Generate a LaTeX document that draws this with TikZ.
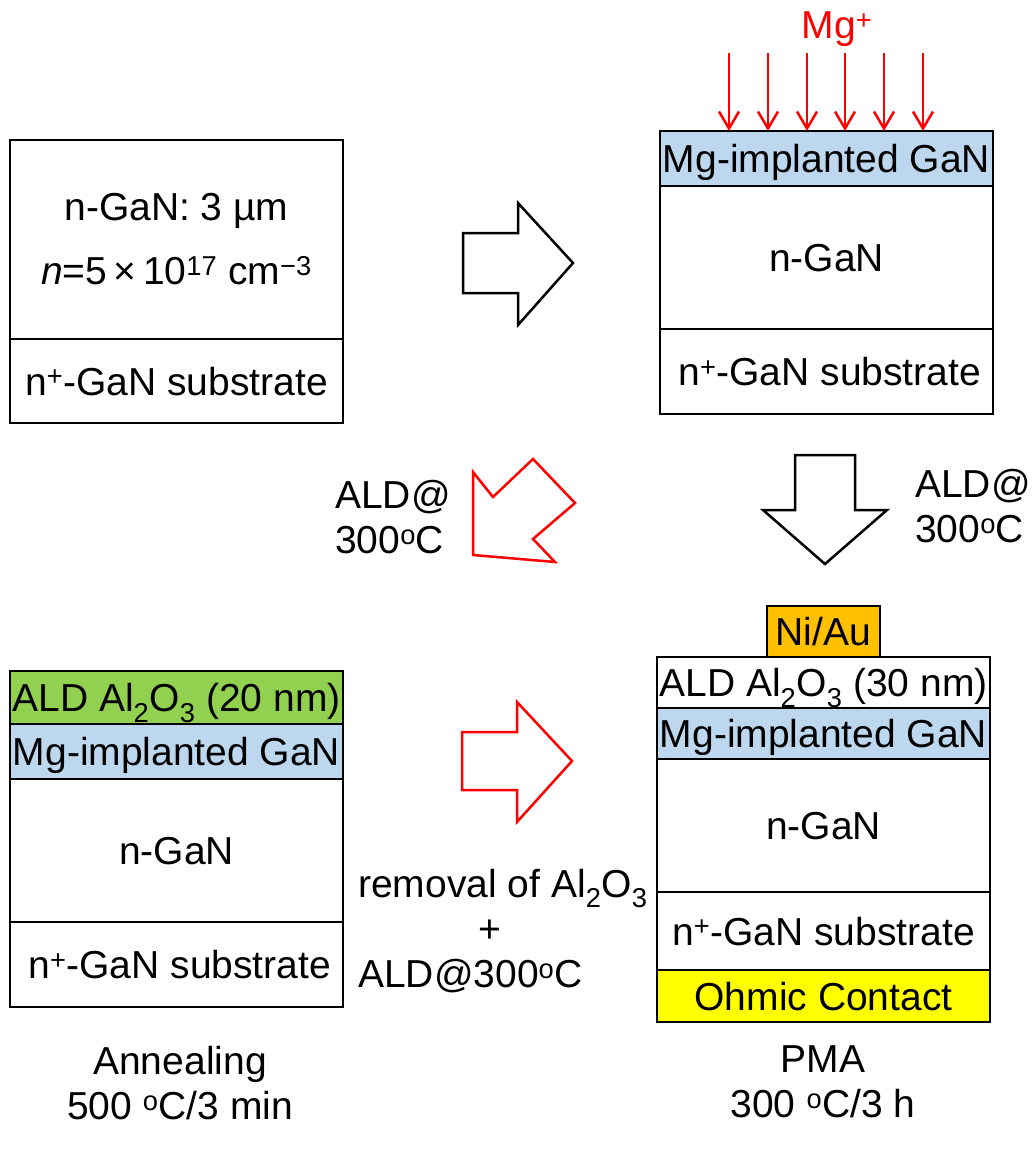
\documentclass[tikz,border=0pt]{standalone}
\usepackage{fontspec}
\setmainfont{Liberation Sans}
\usetikzlibrary{positioning,arrows.meta}

\definecolor{mgblue}{HTML}{BDD7EE}
\definecolor{oxgreen}{HTML}{92D050}
\definecolor{niau}{HTML}{FFC000}
\definecolor{ohmyellow}{HTML}{FFFF00}

\begin{document}
\begin{tikzpicture}[x=1pt, y=-1pt, inner sep=0pt, font=\fontsize{39}{45}\selectfont,
    >={Straight Barb[length=17pt,width=20pt]}]
  % Styles
  \tikzstyle{slab} = [draw, line width=1.5pt, rectangle, outer sep=0pt, minimum width=333pt, align=center]
  \tikzstyle{layer} = [slab, text height=28pt, text depth=0pt]
  \tikzstyle{implant} = [layer, fill=mgblue]
  \tikzstyle{oxide} = [layer, fill=oxgreen]
  \tikzstyle{contact} = [layer, fill=ohmyellow]
  \tikzstyle{gate} = [layer, fill=niau, minimum width=113pt]
  \tikzstyle{bigarrow} = [line width=2.5pt, line join=miter]
  \tikzstyle{ion} = [->, red, line width=2.5pt]

  \useasboundingbox (0,0) rectangle (1035,1162);

  % Wafer
  \node [slab, minimum height=199pt, anchor=north west] (ngan1) at (10,140) {n-GaN: 3 µm\\[19pt]\textit{n}=5\,×\,10\textsuperscript{17} cm\textsuperscript{−3}};
  \node [layer, minimum height=84pt, below=0pt of ngan1] (sub1) {n\textsuperscript{+}-GaN substrate};

  % Implanted wafer
  \node [implant, minimum height=55pt, anchor=north west] (mg2) at (660,131) {Mg-implanted GaN};
  \node [layer, minimum height=143pt, below=0pt of mg2] (ngan2) {n-GaN};
  \node [layer, minimum height=85pt, below=0pt of ngan2] (sub2) {\,n\textsuperscript{+}-GaN substrate};

  % Annealed wafer
  \node [oxide, minimum height=53pt, anchor=north west] (ox3) at (10,671) {ALD Al\textsubscript{2}O\textsubscript{3} (20 nm)};
  \node [implant, minimum height=55pt, below=0pt of ox3] (mg3) {Mg-implanted GaN};
  \node [layer, minimum height=143pt, below=0pt of mg3] (ngan3) {n-GaN};
  \node [layer, minimum height=85pt, below=0pt of ngan3] (sub3) {\,n\textsuperscript{+}-GaN substrate};

  % MOS capacitor
  \node [layer, minimum height=51pt, anchor=north west] (ox4) at (657,657) {ALD Al\textsubscript{2}O\textsubscript{3} (30 nm)};
  \node [gate, minimum height=51pt, above=0pt of ox4] (gate4) {Ni/Au};
  \node [implant, minimum height=51pt, below=0pt of ox4] (mg4) {Mg-implanted GaN};
  \node [layer, minimum height=133pt, below=0pt of mg4] (ngan4) {n-GaN};
  \node [layer, minimum height=78pt, below=0pt of ngan4] (sub4) {n\textsuperscript{+}-GaN substrate};
  \node [contact, minimum height=52pt, below=0pt of sub4] (ohm4) {Ohmic Contact};

  % Implantation
  \node [red] (ion) at (837,29) {Mg\textsuperscript{+}};
  \foreach \x in {729,768,807,845,884,923}
    \draw [ion] (\x,53) -- (\x,53 |- mg2.north);

  % Process arrows
  \draw [bigarrow] (463,233) -- (518,233) -- (518,203) -- (573,263) -- (518,325) -- (518,293) -- (463,293) -- cycle;
  \draw [bigarrow] (795,455) -- (855,455) -- (855,510) -- (887,510) -- (825,564) -- (763,510) -- (795,510) -- cycle;
  \draw [bigarrow, red] (473,472) -- (493,497) -- (533,459) -- (575,503) -- (533,539) -- (555,562) -- (473,555) -- cycle;
  \draw [bigarrow, red] (462,732) -- (517,732) -- (517,702) -- (572,761) -- (517,822) -- (517,790) -- (462,790) -- cycle;

  % Labels
  \node [anchor=west, align=left] (ald1) at (335,517) {ALD@\\300\textsuperscript{o}C};
  \node [anchor=west, align=left] (ald2) at (915,506) {ALD@\\300\textsuperscript{o}C};
  \node [anchor=west, align=left] (ald3) at (358,931) {removal of Al\textsubscript{2}O\textsubscript{3}\\\hspace*{120pt}+\\ALD@300\textsuperscript{o}C};
  \node [align=center] (anneal) at (180,1083) {Annealing\\500 \textsuperscript{o}C/3 min};
  \node [align=center] (pma) at (823,1082) {PMA\\300 \textsuperscript{o}C/3 h};

\end{tikzpicture}
\end{document}
